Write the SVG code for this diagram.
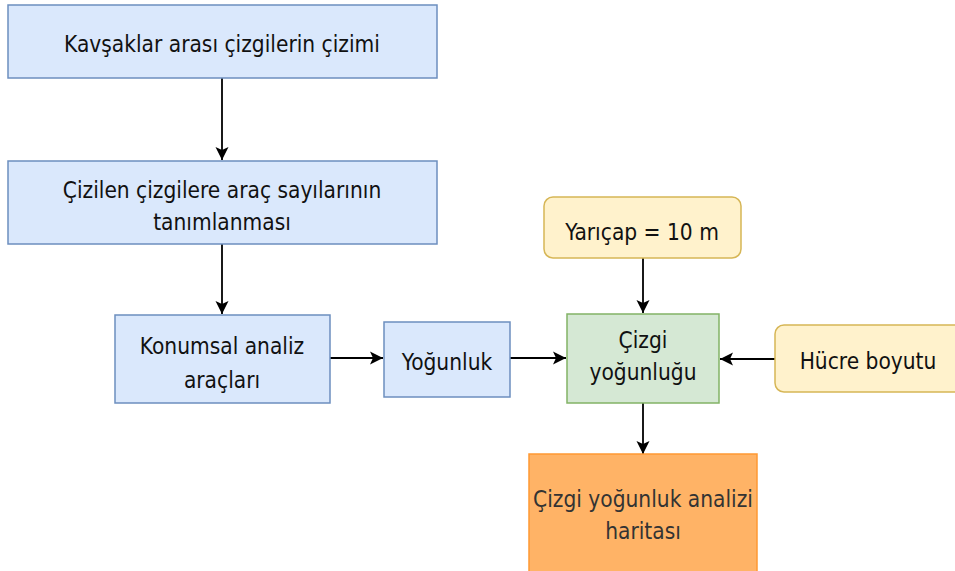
<svg xmlns="http://www.w3.org/2000/svg" width="955" height="571" viewBox="0 0 955 571">
<defs>
<marker id="arr" markerWidth="16" markerHeight="16" viewBox="0 0 16 16" refX="15" refY="8" orient="auto" markerUnits="userSpaceOnUse">
<path d="M2,1.5 L15,8 L2,14.5 L5,8 Z" fill="#000"/>
</marker>
<style>
text{font-family:"DejaVu Sans Condensed","DejaVu Sans","Liberation Sans",sans-serif;font-stretch:condensed;font-size:22.5px;fill:#111;text-anchor:middle}
.blue{fill:#dae8fc;stroke:#6c8ebf;stroke-width:1.5}
.green{fill:#d5e8d4;stroke:#82b366;stroke-width:1.5}
.yellow{fill:#fff2cc;stroke:#d6b656;stroke-width:1.5}
.orange{fill:#ffb366;stroke:#ff9933;stroke-width:1.5}
.edge{stroke:#000;stroke-width:1.8;fill:none;marker-end:url(#arr)}
</style>
</defs>
<rect width="955" height="571" fill="#fff"/>
<g id="connectors">
<line class="edge" x1="222" y1="78" x2="222" y2="160"/>
<line class="edge" x1="222" y1="244" x2="222" y2="314"/>
<line class="edge" x1="330" y1="358" x2="383" y2="358"/>
<line class="edge" x1="510" y1="358" x2="566" y2="358"/>
<line class="edge" x1="643" y1="258" x2="643" y2="313"/>
<line class="edge" x1="775" y1="359" x2="720" y2="359"/>
<line class="edge" x1="643" y1="403" x2="643" y2="454"/>
</g>
<g id="n1"><rect class="blue" x="8" y="5" width="429" height="73"/><text x="222" y="52">Kavşaklar arası çizgilerin çizimi</text></g>
<g id="n2"><rect class="blue" x="8" y="161" width="429" height="83"/><text x="222" y="198">Çizilen çizgilere araç sayılarının</text><text x="222" y="230">tanımlanması</text></g>
<g id="n3"><rect class="blue" x="115" y="315" width="215" height="88"/><text x="222" y="354">Konumsal analiz</text><text x="222" y="388">araçları</text></g>
<g id="n4"><rect class="blue" x="384" y="322" width="126" height="75"/><text x="447" y="370">Yoğunluk</text></g>
<g id="n5"><rect class="green" x="567" y="314" width="152" height="89"/><text x="643" y="348">Çizgi</text><text x="643" y="380">yoğunluğu</text></g>
<g id="n6"><rect class="yellow" x="544" y="197" width="197" height="61" rx="9"/><text x="642" y="240">Yarıçap = 10 m</text></g>
<g id="n7"><rect class="yellow" x="775" y="325" width="190" height="67" rx="9"/><text x="868" y="369">Hücre boyutu</text></g>
<g id="n8"><rect class="orange" x="529" y="454" width="228" height="130"/><text x="643" y="507" style="fill:#333">Çizgi yoğunluk analizi</text><text x="643" y="539" style="fill:#333">haritası</text></g>
</svg>
